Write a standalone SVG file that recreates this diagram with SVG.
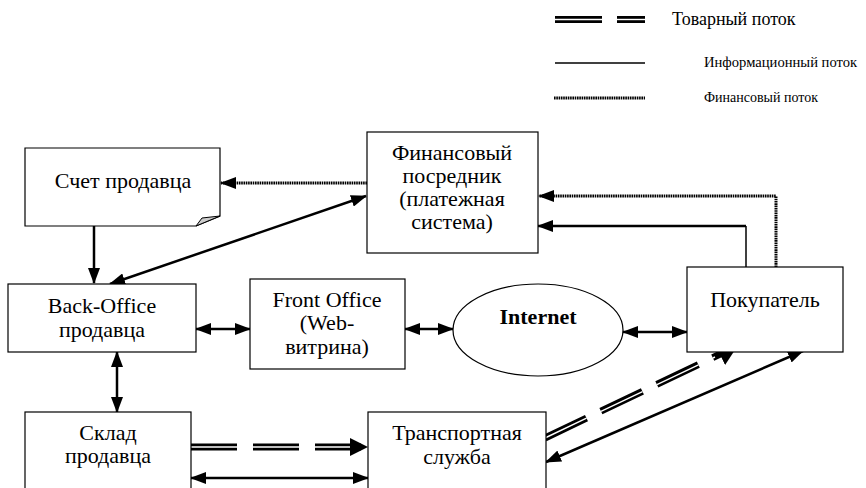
<svg xmlns="http://www.w3.org/2000/svg" width="866" height="488" viewBox="0 0 866 488">
  <style>
    text { font-family: "Liberation Serif", "DejaVu Serif", "Times New Roman", serif; fill: #000; }
    .box { fill: #fff; stroke: #000; stroke-width: 1.2; }
    .lbl { font-size: 22px; text-anchor: middle; }
    .leg { font-size: 14px; }
    .legTop { font-size: 18px; }
    .info { fill: none; stroke: #000; stroke-width: 2.5; }
    .thin { fill: none; stroke: #000; stroke-width: 1.5; }
    .fin { fill: none; stroke: #000; stroke-width: 3; stroke-dasharray: 1.6 0.7; }
    .goodsOuter { fill: none; stroke: #000; stroke-width: 7; }
    .goodsInner { fill: none; stroke: #fff; stroke-width: 1.4; }
  </style>
  <defs>
    <marker id="arr" markerUnits="userSpaceOnUse" markerWidth="16" markerHeight="12" refX="15" refY="6" orient="auto-start-reverse">
      <path d="M0,0 L16,6 L0,12 Z" fill="#000"/>
    </marker>
    <marker id="arrBig" markerUnits="userSpaceOnUse" markerWidth="18" markerHeight="18" refX="17" refY="9" orient="auto">
      <path d="M0,0 L18,9 L0,18 Z" fill="#000"/>
    </marker>
    <marker id="arrWide" markerUnits="userSpaceOnUse" markerWidth="20" markerHeight="24" refX="19" refY="12" orient="auto">
      <path d="M0,0 L20,12 L0,24 Z" fill="#000"/>
    </marker>
  </defs>

  <!-- legend -->
  <g id="legend">
    <line x1="555" y1="19.5" x2="602" y2="19.5" class="goodsOuter"/>
    <line x1="555" y1="19.5" x2="602" y2="19.5" class="goodsInner"/>
    <line x1="617" y1="19.5" x2="645" y2="19.5" class="goodsOuter"/>
    <line x1="617" y1="19.5" x2="645" y2="19.5" class="goodsInner"/>
    <text x="672" y="25" class="legTop">Товарный поток</text>
    <line x1="555" y1="63" x2="645" y2="63" class="thin"/>
    <text x="704" y="67" class="leg" style="font-size:14.6px">Информационный поток</text>
    <line x1="554" y1="98" x2="645" y2="98" class="fin"/>
    <text x="704" y="102" class="leg">Финансовый поток</text>
  </g>

  <!-- connectors -->
  <g id="connectors">
    <!-- goods: Транспортная служба to Покупатель (head tucked under the box) -->
    <line x1="545" y1="438" x2="737" y2="346" class="goodsOuter" stroke-dasharray="46 16" marker-end="url(#arrWide)"/>
    <line x1="545" y1="438" x2="715" y2="357" class="goodsInner" stroke-dasharray="46 16"/>
    <!-- goods: Склад to Транспортная служба -->
    <line x1="191" y1="447" x2="367" y2="447" class="goodsOuter" stroke-dasharray="46 16" marker-end="url(#arrBig)"/>
    <line x1="191" y1="447" x2="350" y2="447" class="goodsInner" stroke-dasharray="46 16"/>

    <!-- info -->
    <line x1="94" y1="226" x2="94" y2="283" class="info" marker-end="url(#arr)"/>
    <line x1="110" y1="284" x2="366" y2="196" class="info" marker-start="url(#arr)" marker-end="url(#arr)"/>
    <line x1="196" y1="329" x2="250" y2="329" class="info" marker-start="url(#arr)" marker-end="url(#arr)"/>
    <line x1="405" y1="329" x2="453" y2="329" class="info" marker-start="url(#arr)" marker-end="url(#arr)"/>
    <line x1="623" y1="332" x2="687" y2="332" class="info" marker-start="url(#arr)" marker-end="url(#arr)"/>
    <line x1="117" y1="352" x2="117" y2="412" class="info" marker-start="url(#arr)" marker-end="url(#arr)"/>
    <line x1="191" y1="478" x2="368" y2="478" class="info" marker-start="url(#arr)" marker-end="url(#arr)"/>
    <line x1="546" y1="462" x2="803" y2="351" class="info" marker-start="url(#arr)" marker-end="url(#arr)"/>
    <line x1="746" y1="267" x2="746" y2="226" class="thin"/>
    <line x1="746" y1="226" x2="538" y2="226" class="info" marker-end="url(#arr)"/>

    <!-- finance -->
    <line x1="367" y1="183" x2="221" y2="183" class="fin" marker-end="url(#arr)"/>
    <polyline points="776,267 776,196 539,196" class="fin" marker-end="url(#arr)"/>
  </g>

  <!-- nodes -->
  <g id="seller-account">
    <path d="M25,148 H220 V216 L196,226 H25 Z" class="box"/>
    <path d="M196,226 L202,218 L220,216 Z" fill="#ccc" stroke="#000" stroke-width="1"/>
    <text x="123" y="188" class="lbl">Счет продавца</text>
  </g>

  <g id="payment-system">
    <rect x="367" y="132" width="171" height="121" class="box"/>
    <text x="452" y="160" class="lbl">Финансовый</text>
    <text x="452" y="183" class="lbl">посредник</text>
    <text x="452" y="206" class="lbl">(платежная</text>
    <text x="452" y="229" class="lbl">система)</text>
  </g>

  <g id="back-office">
    <rect x="8" y="284" width="188" height="68" class="box"/>
    <text x="102" y="313" class="lbl">Back-Office</text>
    <text x="102" y="337" class="lbl">продавца</text>
  </g>

  <g id="front-office">
    <rect x="250" y="279" width="155" height="90" class="box"/>
    <text x="327" y="307" class="lbl">Front Office</text>
    <text x="327" y="330" class="lbl">(Web-</text>
    <text x="327" y="354" class="lbl">витрина)</text>
  </g>

  <g id="internet">
    <ellipse cx="538" cy="330" rx="85" ry="46" class="box"/>
    <text x="538" y="324" class="lbl" font-weight="bold">Internet</text>
  </g>

  <g id="buyer">
    <rect x="687" y="267" width="156" height="85" class="box"/>
    <text x="765" y="307" class="lbl">Покупатель</text>
  </g>

  <g id="warehouse">
    <rect x="25" y="412" width="166" height="90" class="box"/>
    <text x="108" y="440" class="lbl">Склад</text>
    <text x="108" y="463" class="lbl">продавца</text>
  </g>

  <g id="transport">
    <rect x="368" y="412" width="178" height="90" class="box"/>
    <text x="457" y="440" class="lbl">Транспортная</text>
    <text x="457" y="464" class="lbl">служба</text>
  </g>
</svg>
